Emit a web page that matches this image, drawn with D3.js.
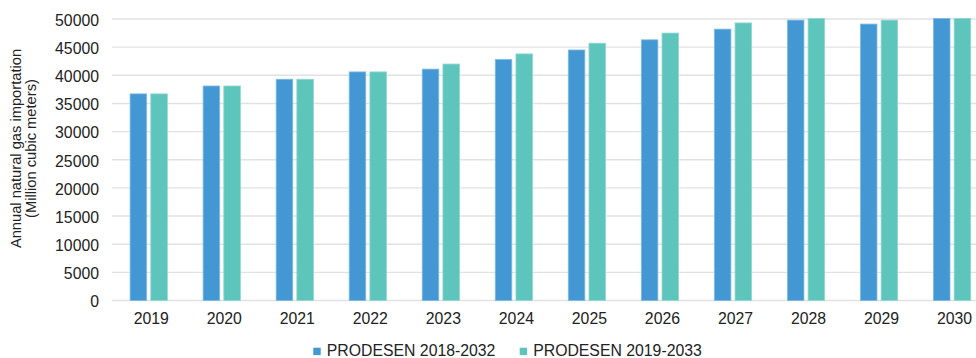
<!DOCTYPE html>
<html>
<head>
<meta charset="utf-8">
<script src="https://cdn.jsdelivr.net/npm/d3@7"></script>
<style>
  html, body { margin: 0; padding: 0; background: #ffffff; }
  svg { display: block; font-family: "Liberation Sans", Arial, Helvetica, sans-serif; }
</style>
</head>
<body>
<svg id="chart" width="976" height="358"></svg>
<script>
// Annual natural gas importation projections (million cubic meters)
const years = ["2019", "2020", "2021", "2022", "2023", "2024", "2025", "2026", "2027", "2028", "2029", "2030"];
const seriesNames = ["PRODESEN 2018-2032", "PRODESEN 2019-2033"];
const prodesen2018 = [36700, 38100, 39300, 40600, 41100, 42800, 44500, 46300, 48200, 49800, 49100, 50100];
const prodesen2019 = [36700, 38100, 39300, 40600, 42000, 43800, 45700, 47500, 49300, 50100, 49800, 50100];
const yTicks = [0, 5000, 10000, 15000, 20000, 25000, 30000, 35000, 40000, 45000, 50000];
const colors = ["#4398d4", "#5dc5bb"];
const strokeColors = ["#7dbbe6", "#8fd8d0"];

const svg = d3.select("#chart");
const fontSize = 15.8;

const x = d3.scaleBand()
  .domain(years)
  .range([112.2, 988.6])
  .paddingInner(0.49)
  .paddingOuter(0.245);

const xSub = d3.scaleBand()
  .domain([0, 1])
  .range([0, x.bandwidth()])
  .paddingInner(0.2);

const y = d3.scaleLinear()
  .domain([0, 50000])
  .range([300.5, 19]);

// Horizontal gridlines
svg.append("g")
  .selectAll("line")
  .data(yTicks)
  .join("line")
  .attr("x1", 112)
  .attr("x2", 976)
  .attr("y1", d => y(d))
  .attr("y2", d => y(d))
  .attr("stroke", "#e2e2e2")
  .attr("stroke-width", 1.4);

// Y axis labels
const yAxis = svg.append("g")
  .attr("transform", "translate(99,0)")
  .call(d3.axisLeft(y).tickValues(yTicks).tickSize(0).tickPadding(0).tickFormat(d3.format("d")));
yAxis.select(".domain").remove();
yAxis.selectAll("text")
  .attr("font-size", fontSize)
  .attr("font-family", "Liberation Sans, Arial, sans-serif")
  .attr("fill", "#222")
  .attr("dy", "0.4em");

// X axis labels
const xAxis = svg.append("g")
  .attr("transform", "translate(0,300.5)")
  .call(d3.axisBottom(x).tickSize(0).tickPadding(0));
xAxis.select(".domain").remove();
xAxis.selectAll("text")
  .attr("font-size", fontSize)
  .attr("font-family", "Liberation Sans, Arial, sans-serif")
  .attr("fill", "#222")
  .attr("dx", 2.5)
  .attr("dy", 0)
  .attr("y", 23.5);

// Bars
const seriesData = [prodesen2018, prodesen2019];
const groups = svg.append("g")
  .selectAll("g")
  .data(years)
  .join("g")
  .attr("transform", d => `translate(${x(d)},0)`);

groups.selectAll("rect")
  .data((d, i) => seriesData.map((s, k) => ({ k, v: s[i] })))
  .join("rect")
  .attr("x", d => xSub(d.k))
  .attr("width", xSub.bandwidth())
  .attr("y", d => y(d.v))
  .attr("height", d => y(0) - y(d.v))
  .attr("fill", d => colors[d.k])
  .attr("stroke", d => strokeColors[d.k])
  .attr("stroke-width", 0.8);

// Y axis title (two lines)
const title = svg.append("text")
  .attr("transform", "translate(21,148.5) rotate(-90)")
  .attr("text-anchor", "middle")
  .attr("font-size", 14.7)
  .attr("fill", "#222");
title.append("tspan").attr("x", 0).attr("y", 0).text("Annual natural gas importation");
title.append("tspan").attr("x", 0).attr("y", 15).text("(Million cubic meters)");

// Legend
const legend = svg.append("g");
let lx = 313.3;
seriesNames.forEach((name, i) => {
  legend.append("rect")
    .attr("x", lx)
    .attr("y", 347.7)
    .attr("width", 7.4)
    .attr("height", 7.4)
    .attr("fill", colors[i]);
  const t = legend.append("text")
    .attr("x", lx + 13.5)
    .attr("y", 355.5)
    .attr("font-size", fontSize)
    .attr("fill", "#222")
    .text(name);
  lx = lx + 13.5 + t.node().getComputedTextLength() + 24.3;
});
</script>
</body>
</html>
